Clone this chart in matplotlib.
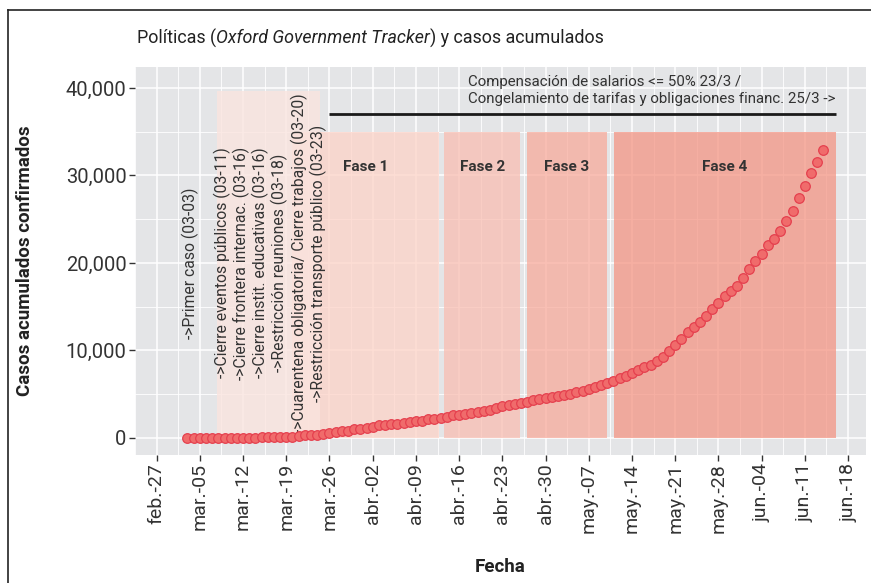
import matplotlib
matplotlib.use('Agg')
import matplotlib.pyplot as plt
import numpy as np
import pandas as pd
from matplotlib.lines import Line2D

plt.rcParams['font.family'] = ['Roboto', 'DejaVu Sans']

# ---------------- data ----------------
start_date = '2020-03-03'
cases = [
    1, 1, 2, 8, 12, 12, 17, 19, 19, 31, 34, 45, 56, 68, 79, 97, 128, 158,
    266, 301, 387, 387, 502, 589, 690, 745, 820, 1054, 1054,            # Mar 3 - Mar 31
    1133, 1265, 1451, 1451, 1554, 1628, 1715, 1795, 1975, 1975, 2142, 2208,
    2277, 2443, 2571, 2669, 2758, 2839, 2941, 3031, 3144, 3435, 3607, 3780,
    3892, 4003, 4127, 4285, 4428, 4532,                                  # Apr
    4681, 4783, 4887, 5020, 5208, 5371, 5611, 5776, 6034, 6278, 6563, 6879,
    7134, 7479, 7805, 8068, 8371, 8809, 9283, 9931, 10649, 11353, 12076,
    12628, 13228, 13933, 14702, 15419, 16214, 16838, 17415,              # May
    18319, 19268, 20197, 21037, 22020, 22794, 23620, 24761, 25987, 27373,
    28764, 30295, 31577, 32900,                                          # Jun 1 - 14
]
dates = pd.date_range(start_date, periods=len(cases), freq='D')

tick_dates = pd.date_range('2020-02-27', '2020-06-18', freq='7D')
tick_labels = ['feb.-27', 'mar.-05', 'mar.-12', 'mar.-19', 'mar.-26', 'abr.-02',
               'abr.-09', 'abr.-16', 'abr.-23', 'abr.-30', 'may.-07', 'may.-14',
               'may.-21', 'may.-28', 'jun.-04', 'jun.-11', 'jun.-18']
y_ticks = [0, 10000, 20000, 30000, 40000]

phase_names = ['Fase 1', 'Fase 2', 'Fase 3', 'Fase 4']
phase_start = ['2020-03-20 00:00', '2020-04-13 14:00', '2020-04-26 22:00', '2020-05-11 01:00']
phase_end = ['2020-04-12 18:00', '2020-04-25 22:00', '2020-05-09 22:00', '2020-06-16 00:00']
phase_top = 35000

policy_start = '2020-03-07 19:00'
policy_end = '2020-03-24 12:00'
policy_top = 39700

first_case_label = '->Primer caso (03-03)'
policy_labels = ['->Cierre eventos públicos (03-11)',
                 '->Cierre frontera internac. (03-16)',
                 '->Cierre instit. educativas (03-16)',
                 '->Restricción reuniones (03-18)',
                 '->Cuarentena obligatoria/ Cierre trabajos (03-20)',
                 '->Restricción transporte público (03-23)']
econ_label = ('Compensación de salarios <= 50% 23/3 /\n'
              'Congelamiento de tarifas y obligaciones financ. 25/3 ->')
econ_start = '2020-03-26'
econ_end = '2020-06-16'
econ_level = 37000

# ---------------- figure ----------------
W, H = 871, 583
fig = plt.figure(figsize=(W / 100, H / 100), dpi=100)
ax = fig.add_axes([135 / W, 1 - 455 / H, (866 - 135) / W, (455 - 67) / H])

ax.set_facecolor('#E4E5E7')
for s in ax.spines.values():
    s.set_visible(False)

t0 = pd.Timestamp('2020-02-27')
def dnum(d):
    return matplotlib.dates.date2num(pd.Timestamp(d))

ax.set_xlim(dnum(t0) - 2.5, dnum(t0) + 114.9)
ax.set_ylim(-1950, 42400)

ax.set_xticks([dnum(d) for d in tick_dates])
ax.set_xticklabels(tick_labels, rotation=90, va='top', ha='center')
ax.set_xticks([dnum(d) + 3.5 for d in tick_dates[:-1]] + [dnum(tick_dates[0]) - 3.5], minor=True)
ax.set_yticks(y_ticks)
ax.set_yticklabels([f'{v:,.0f}' for v in y_ticks])
ax.set_yticks([5000, 15000, 25000, 35000], minor=True)

ax.grid(which='major', color='white', lw=1.1)
ax.grid(which='minor', color='white', lw=0.6)
ax.set_axisbelow(True)
ax.tick_params(which='major', length=4, width=1.0, color='#333333',
               labelcolor='#333333', labelsize=14.5, pad=2)
ax.tick_params(axis='x', which='major', labelsize=14)
ax.tick_params(which='minor', length=0)

# phase rectangles
phase_colors = ['#FDD3C7', '#F9BEB2', '#F8AB9C', '#F49584']
for name, s, e, c in zip(phase_names, phase_start, phase_end, phase_colors):
    x0, x1 = dnum(s), dnum(e)
    ax.fill_between([x0, x1], 0, phase_top, color=c, alpha=0.75, lw=0, zorder=1)
    ax.text((x0 + x1) / 2, 31000, name, ha='center', va='center',
            fontsize=11, fontweight='bold', color='#333333', zorder=4)

# policy rectangle
ax.fill_between([dnum(policy_start), dnum(policy_end)], 0, policy_top,
                color='#FAE4DF', alpha=0.8, lw=0, zorder=1.5)

# economic measures line + text
ax.plot([dnum(econ_start), dnum(econ_end)], [econ_level, econ_level],
        color='#1a1a1a', lw=2.0, zorder=3, solid_capstyle='butt')
ax.text(dnum(t0) + 50.5, 39700, econ_label, ha='left', va='center',
        fontsize=10.8, color='#333333', linespacing=1.3, zorder=4)

# vertical annotations
ax.text(dnum(t0) + 5.5, 20000, first_case_label, rotation=90, ha='center',
        va='center', fontsize=11.3, color='#333333', zorder=4)
ax.text(dnum(t0) + 18.4, 20000, '\n'.join(policy_labels), rotation=90,
        ha='center', va='center', multialignment='center', fontsize=11.3,
        color='#333333', linespacing=1.15, zorder=4)

# points
ax.scatter([dnum(d) for d in dates], cases, s=48, facecolor='#F06B6B',
           edgecolor='#E5404E', linewidth=0.9, zorder=5)

# title with italic part
renderer = fig.canvas.get_renderer()
parts = [('Políticas (', 'normal'), ('Oxford Government Tracker', 'italic'),
         (') y casos acumulados', 'normal')]
x = 137
for txt, style in parts:
    tt = fig.text(x / W, 1 - 38 / H, txt, fontsize=12.9, color='#222222',
                  va='center', ha='left', style=style)
    bb = tt.get_window_extent(renderer=renderer)
    x += bb.width

fig.text(25 / W, 1 - 261 / H, 'Casos acumulados confirmados', rotation=90,
         fontsize=13.5, fontweight='bold', color='#222222', ha='center', va='center')
fig.text(500 / W, 1 - 567 / H, 'Fecha', fontsize=13.5, fontweight='bold',
         color='#222222', ha='center', va='center')

# frame lines
fig.add_artist(Line2D([8 / W, 8 / W], [0, 1 - 10 / H], transform=fig.transFigure,
                      color='#222222', lw=1.2))
fig.add_artist(Line2D([8 / W, 1], [1 - 10 / H, 1 - 10 / H], transform=fig.transFigure,
                      color='#222222', lw=1.2))

fig.savefig('out.png', dpi=100)
